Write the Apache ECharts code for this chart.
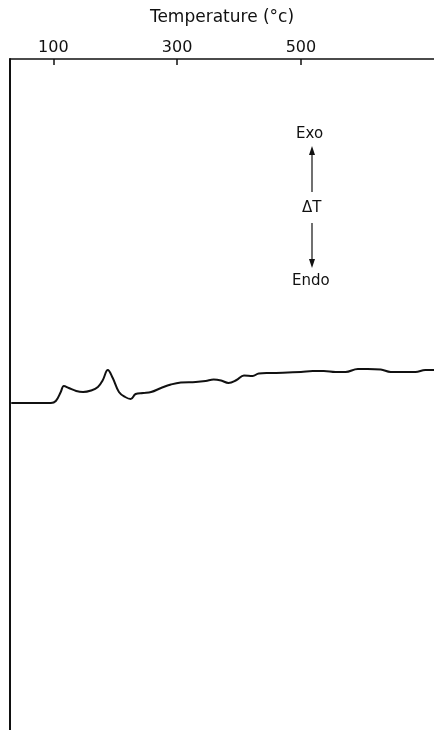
<!DOCTYPE html>
<html>
<head>
<meta charset="utf-8">
<script src="https://cdn.jsdelivr.net/npm/echarts@6/dist/echarts.min.js"></script>
<style>
  html, body { margin: 0; padding: 0; background: #fff; }
  #dta { width: 434px; height: 730px; }
</style>
</head>
<body>
<div id="dta"></div>
<script>
// DTA trace, temperature in °C vs ΔT (arbitrary units)
var temps = [32, 96, 104, 112, 117, 125, 137, 148, 161, 172, 180, 188, 196, 206, 216, 225, 233, 245, 258,
    274, 290, 306, 330, 346, 359, 371, 383, 396, 408, 422, 432, 451, 500, 519, 537, 556, 572, 592, 608,
    629, 645, 685, 701, 715];
var deltaT = [32.7, 32.7, 32.9, 33.8, 34.4, 34.2, 33.9, 33.8, 33.95, 34.3, 35.0, 36.0, 35.2, 33.8, 33.3,
    33.1, 33.6, 33.7, 33.8, 34.2, 34.55, 34.75, 34.8, 34.9, 35.05, 34.95, 34.7, 35.0, 35.45, 35.4, 35.65,
    35.7, 35.8, 35.9, 35.9, 35.8, 35.8, 36.1, 36.1, 36.05, 35.8, 35.8, 36.0, 36.0];
var tempTicks = [100, 300, 500];

var curve = [];
for (var i = 0; i < temps.length; i++) {
    curve.push([temps[i], deltaT[i]]);
}

var dta = echarts.init(document.getElementById('dta'));

var font = 'DejaVu Sans';

dta.setOption({
    animation: false,
    grid: { left: 10, right: 0, top: 59, bottom: 0 },
    xAxis: {
        type: 'value',
        position: 'top',
        min: 30,
        max: 715,
        name: 'Temperature (°c)',
        nameLocation: 'middle',
        nameGap: 33,
        nameTextStyle: { fontFamily: font, fontSize: 17, color: '#111' },
        axisLine: { show: true, onZero: false, lineStyle: { color: '#111', width: 1.5 } },
        axisTick: { show: true, inside: true, length: 6, customValues: tempTicks, lineStyle: { color: '#111', width: 1.5 } },
        axisLabel: { customValues: tempTicks, fontFamily: font, fontSize: 16, color: '#111', margin: 3 },
        splitLine: { show: false }
    },
    yAxis: {
        type: 'value',
        min: 0,
        max: 67.1,
        axisLine: { show: true, onZero: false, lineStyle: { color: '#111', width: 2 } },
        axisTick: { show: false },
        axisLabel: { show: false },
        splitLine: { show: false }
    },
    series: [{
        type: 'line',
        data: curve,
        smooth: 0.4,
        symbol: 'none',
        lineStyle: { color: '#111', width: 2 }
    }],
    graphic: [
        { type: 'text', left: 296, top: 127, style: { text: 'Exo', font: '15px DejaVu Sans', fill: '#111' } },
        { type: 'line', shape: { x1: 312, y1: 192, x2: 312, y2: 152 }, style: { stroke: '#111', lineWidth: 1.2 } },
        { type: 'polygon', shape: { points: [[312, 146], [309, 155], [315, 155]] }, style: { fill: '#111' } },
        { type: 'text', left: 302, top: 201, style: { text: 'ΔT', font: '15px DejaVu Sans', fill: '#111' } },
        { type: 'line', shape: { x1: 312, y1: 223, x2: 312, y2: 262 }, style: { stroke: '#111', lineWidth: 1.2 } },
        { type: 'polygon', shape: { points: [[312, 268], [309, 259], [315, 259]] }, style: { fill: '#111' } },
        { type: 'text', left: 292, top: 274, style: { text: 'Endo', font: '15px DejaVu Sans', fill: '#111' } }
    ]
});
</script>
</body>
</html>
